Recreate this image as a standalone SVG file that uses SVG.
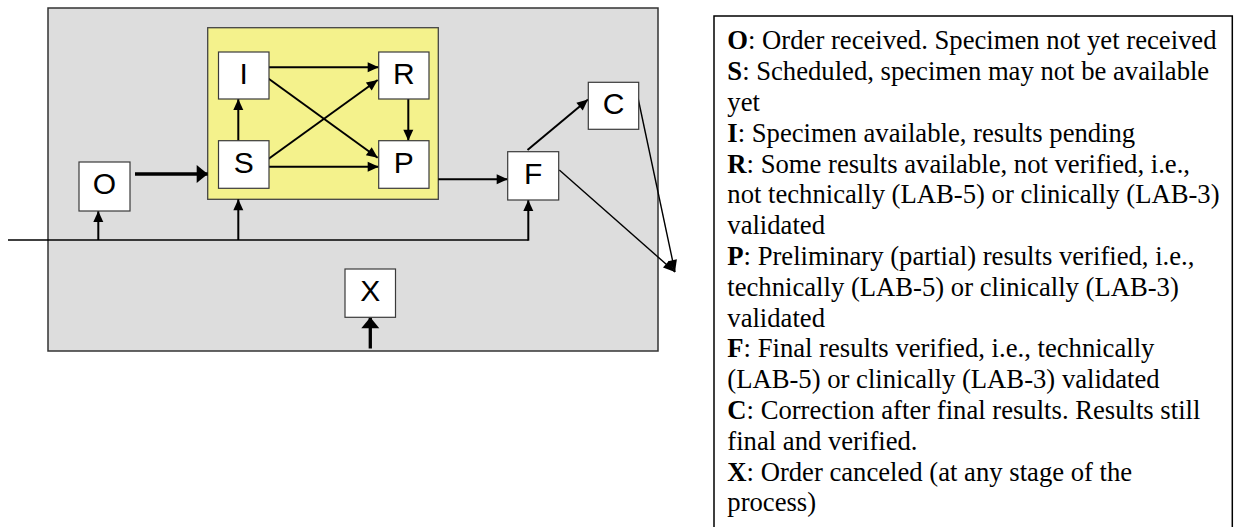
<svg xmlns="http://www.w3.org/2000/svg" width="1234" height="527" viewBox="0 0 1234 527">
<style>
.box{fill:#ffffff;stroke:#3a3a3a;stroke-width:1.2}
.lbl{font-family:"Liberation Sans",Arial,sans-serif;font-size:30px;fill:#000;text-anchor:middle}
.c{fill:none;stroke:#000;stroke-width:2}
.ck{fill:none;stroke:#000;stroke-width:3.3}
.cn{fill:none;stroke:#000;stroke-width:1.4}
.leg{font-family:"Liberation Serif","Times New Roman",serif;font-size:26.67px;fill:#000}
.b{font-weight:bold}
</style>
<defs>
<marker id="a" markerUnits="userSpaceOnUse" markerWidth="11" markerHeight="10" refX="11" refY="5" orient="auto" overflow="visible">
<path d="M0,0 L11,5 L0,10 z" fill="#000"/>
</marker>
<marker id="ak" markerUnits="userSpaceOnUse" markerWidth="11" markerHeight="18" refX="11" refY="9" orient="auto" overflow="visible">
<path d="M0,0 L11,9 L0,18 z" fill="#000"/>
</marker>
<marker id="as" markerUnits="userSpaceOnUse" markerWidth="12" markerHeight="9" refX="12" refY="4.5" orient="auto" overflow="visible">
<path d="M0,0 L12,4.5 L0,9 z" fill="#000"/>
</marker>
</defs>
<rect width="1234" height="527" fill="#ffffff"/>
<g id="frame">
<rect x="48" y="8" width="610" height="343" fill="#dddddd" stroke="#333" stroke-width="1.5"/>
</g>
<g id="group-SIRP">
<rect x="207.7" y="27.7" width="230.6" height="171.6" fill="#f4f28c" stroke="#444" stroke-width="1.3"/>
</g>
<g id="connectors">
<line class="ck" x1="135" y1="174" x2="207.7" y2="174" marker-end="url(#ak)"/>
<line class="c" x1="238.3" y1="140.7" x2="238.3" y2="99" marker-end="url(#a)"/>
<line class="c" x1="269" y1="67.3" x2="378.7" y2="67.3" marker-end="url(#a)"/>
<line class="c" x1="268" y1="78.3" x2="377.7" y2="157.7" marker-end="url(#a)"/>
<line class="c" x1="268" y1="159.3" x2="377.7" y2="80" marker-end="url(#a)"/>
<line class="c" x1="269" y1="166.7" x2="378.7" y2="166.7" marker-end="url(#a)"/>
<line class="c" x1="408.3" y1="99" x2="408.3" y2="140.7" marker-end="url(#a)"/>
<line class="c" x1="438.3" y1="179.3" x2="507.7" y2="179.3" marker-end="url(#a)"/>
<line class="c" x1="527.5" y1="150" x2="588" y2="99.5" marker-end="url(#a)"/>
<line class="cn" x1="638" y1="98" x2="675" y2="272" marker-end="url(#as)"/>
<line class="cn" x1="559.3" y1="170" x2="675" y2="272" marker-end="url(#as)"/>
<polyline class="cn" points="8,240 528.3,240"/>
<line class="c" x1="528.3" y1="240.7" x2="528.3" y2="200" marker-end="url(#a)"/>
<line class="c" x1="98.3" y1="240" x2="98.3" y2="211" marker-end="url(#a)"/>
<line class="c" x1="238.3" y1="240" x2="238.3" y2="199.3" marker-end="url(#a)"/>
<line class="ck" x1="370.3" y1="348.5" x2="370.3" y2="317.3" marker-end="url(#ak)"/>
</g>
<g id="node-O"><rect class="box" x="79" y="162" width="51" height="49"/><text class="lbl" x="104.5" y="194">O</text></g>
<g id="node-I"><rect class="box" x="218.5" y="52" width="50.5" height="47"/><text class="lbl" x="243.7" y="83.5">I</text></g>
<g id="node-S"><rect class="box" x="218.5" y="140.7" width="50.5" height="47.6"/><text class="lbl" x="243.7" y="172.5">S</text></g>
<g id="node-R"><rect class="box" x="378.7" y="52" width="50.3" height="47"/><text class="lbl" x="403.8" y="83.5">R</text></g>
<g id="node-P"><rect class="box" x="378.7" y="140.7" width="50.3" height="47.6"/><text class="lbl" x="403.8" y="172.5">P</text></g>
<g id="node-F"><rect class="box" x="507.7" y="151.7" width="51" height="48.3"/><text class="lbl" x="533.2" y="183.5">F</text></g>
<g id="node-C"><rect class="box" x="588.3" y="82.3" width="50.4" height="47"/><text class="lbl" x="613.5" y="114">C</text></g>
<g id="node-X"><rect class="box" x="345" y="269" width="50.5" height="48.3"/><text class="lbl" x="370.3" y="301">X</text></g>
<g id="legend">
<rect x="714" y="16" width="518.3" height="514" fill="#ffffff" stroke="#000" stroke-width="1.5"/>
<text class="leg" x="727.3" y="49.3"><tspan class="b">O</tspan>: Order received. Specimen not yet received</text>
<text class="leg" x="727.3" y="80.1"><tspan class="b">S</tspan>: Scheduled, specimen may not be available</text>
<text class="leg" x="727.3" y="110.9">yet</text>
<text class="leg" x="727.3" y="141.7"><tspan class="b">I</tspan>: Specimen available, results pending</text>
<text class="leg" x="727.3" y="172.5"><tspan class="b">R</tspan>: Some results available, not verified, i.e.,</text>
<text class="leg" x="727.3" y="203.3">not technically (LAB-5) or clinically (LAB-3)</text>
<text class="leg" x="727.3" y="234.1">validated</text>
<text class="leg" x="727.3" y="264.9"><tspan class="b">P</tspan>: Preliminary (partial) results verified, i.e.,</text>
<text class="leg" x="727.3" y="295.7">technically (LAB-5) or clinically (LAB-3)</text>
<text class="leg" x="727.3" y="326.5">validated</text>
<text class="leg" x="727.3" y="357.3"><tspan class="b">F</tspan>: Final results verified, i.e., technically</text>
<text class="leg" x="727.3" y="388.1">(LAB-5) or clinically (LAB-3) validated</text>
<text class="leg" x="727.3" y="418.9"><tspan class="b">C</tspan>: Correction after final results. Results still</text>
<text class="leg" x="727.3" y="449.7">final and verified.</text>
<text class="leg" x="727.3" y="480.5"><tspan class="b">X</tspan>: Order canceled (at any stage of the</text>
<text class="leg" x="727.3" y="511.3">process)</text>
</g>
</svg>
